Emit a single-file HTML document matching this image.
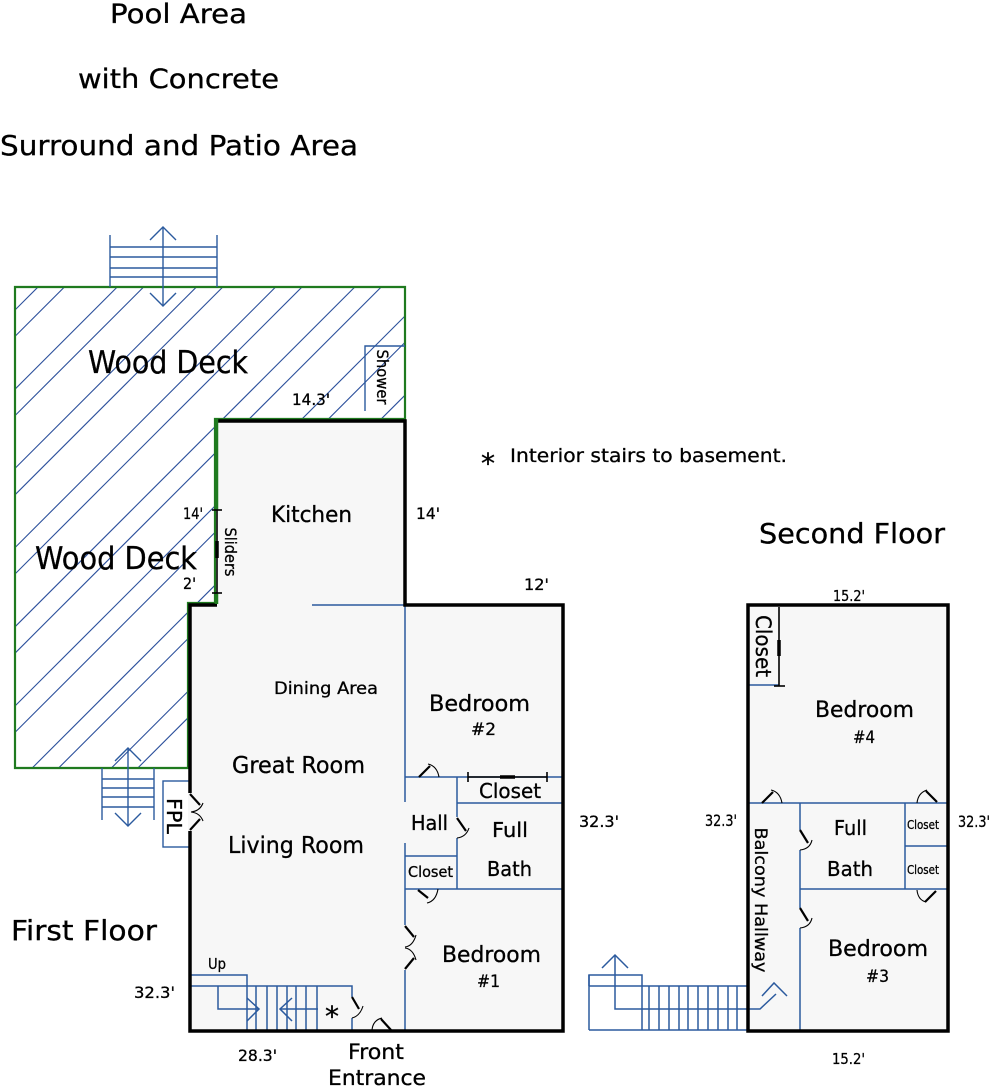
<!DOCTYPE html>
<html>
<head>
<meta charset="utf-8">
<style>
  html,body{margin:0;padding:0;background:#fff;}
  svg{display:block;}
  text{fill:#000;stroke:#000;stroke-width:0.3px;}
</style>
</head>
<body>
<svg width="990" height="1088" viewBox="0 0 990 1088" xmlns="http://www.w3.org/2000/svg" font-family="'DejaVu Sans', Verdana, 'Liberation Sans', sans-serif">
  <defs>
    <clipPath id="deckclip">
      <polygon points="15,287 405,287 405,419 215,419 215,603 188,603 188,768 15,768"/>
    </clipPath>
  </defs>

  <!-- Top titles -->
  <text x="110" y="23" font-size="27" textLength="137" lengthAdjust="spacingAndGlyphs">Pool Area</text>
  <text x="78" y="88" font-size="27" textLength="201" lengthAdjust="spacingAndGlyphs">with Concrete</text>
  <text x="0" y="155" font-size="28" textLength="358" lengthAdjust="spacingAndGlyphs">Surround and Patio Area</text>

  <!-- Deck -->
  <polygon points="15,287 405,287 405,419 215,419 215,603 188,603 188,768 15,768" fill="#fff"/>
  <g clip-path="url(#deckclip)" stroke="#2b4f9b" stroke-width="1.1">
    <line x1="75" y1="250" x2="-525" y2="850"/>
    <line x1="101.4" y1="250" x2="-498.6" y2="850"/>
    <line x1="154.2" y1="250" x2="-445.8" y2="850"/>
    <line x1="180.6" y1="250" x2="-419.4" y2="850"/>
    <line x1="233.4" y1="250" x2="-366.6" y2="850"/>
    <line x1="259.8" y1="250" x2="-340.2" y2="850"/>
    <line x1="312.6" y1="250" x2="-287.4" y2="850"/>
    <line x1="339" y1="250" x2="-261" y2="850"/>
    <line x1="391.8" y1="250" x2="-208.2" y2="850"/>
    <line x1="418.2" y1="250" x2="-181.8" y2="850"/>
    <line x1="471" y1="250" x2="-129" y2="850"/>
    <line x1="497.4" y1="250" x2="-102.6" y2="850"/>
    <line x1="550.2" y1="250" x2="-49.8" y2="850"/>
    <line x1="576.6" y1="250" x2="-23.4" y2="850"/>
    <line x1="629.4" y1="250" x2="29.4" y2="850"/>
    <line x1="655.8" y1="250" x2="55.8" y2="850"/>
  </g>
  <polygon points="15,287 405,287 405,419 215,419 215,603 188,603 188,768 15,768" fill="none" stroke="#1f7a1f" stroke-width="2.2"/>

  <!-- Top deck stairs -->
  <g stroke="#2b5a9e" stroke-width="1.4" fill="none">
    <line x1="110" y1="235" x2="110" y2="287"/>
    <line x1="217" y1="235" x2="217" y2="287"/>
    <line x1="110" y1="247" x2="217" y2="247"/>
    <line x1="110" y1="257" x2="217" y2="257"/>
    <line x1="110" y1="268" x2="217" y2="268"/>
    <line x1="110" y1="277" x2="217" y2="277"/>
    <line x1="163" y1="227" x2="163" y2="306"/>
    <polyline points="150,240 163,227 176,240"/>
    <polyline points="150,293 163,306 176,293"/>
  </g>

  <!-- Shower -->
  <g stroke="#2b5a9e" stroke-width="1.4" fill="none">
    <polyline points="365,411 365,346 405,346"/>
  </g>
  <text transform="translate(377,377) rotate(90)" font-size="16" text-anchor="middle" textLength="55" lengthAdjust="spacingAndGlyphs">Shower</text>

  <text x="88" y="373" font-size="31" textLength="160" lengthAdjust="spacingAndGlyphs">Wood Deck</text>
  <text x="35" y="569" font-size="31" textLength="162" lengthAdjust="spacingAndGlyphs">Wood Deck</text>
  <text x="292" y="405" font-size="16" textLength="38" lengthAdjust="spacingAndGlyphs">14.3'</text>

  <!-- Bottom deck stairs -->
  <g stroke="#2b5a9e" stroke-width="1.4" fill="none">
    <line x1="102" y1="768" x2="102" y2="820"/>
    <line x1="154" y1="768" x2="154" y2="820"/>
    <line x1="102" y1="779" x2="154" y2="779"/>
    <line x1="102" y1="788" x2="154" y2="788"/>
    <line x1="102" y1="797" x2="154" y2="797"/>
    <line x1="102" y1="807" x2="154" y2="807"/>
    <line x1="128" y1="748" x2="128" y2="826"/>
    <polyline points="115,761 128,748 141,761"/>
    <polyline points="115,813 128,826 141,813"/>
  </g>

  <!-- First floor fill -->
  <polygon points="217,421 405,421 405,605 563,605 563,1031 190,1031 190,605 217,605" fill="#f7f7f7"/>

  <!-- FPL -->
  <rect x="163" y="781" width="27" height="66" fill="#fff" stroke="#2b5a9e" stroke-width="1.4"/>
  <text transform="translate(167,816) rotate(90)" font-size="20" text-anchor="middle" textLength="36" lengthAdjust="spacingAndGlyphs">FPL</text>

  <!-- Interior blue walls first floor -->
  <g stroke="#2b5a9e" stroke-width="1.5" fill="none">
    <line x1="312" y1="605" x2="405" y2="605"/>
    <line x1="405" y1="605" x2="405" y2="802"/>
    <line x1="405" y1="843" x2="405" y2="925"/>
    <line x1="405" y1="970" x2="405" y2="1031"/>
    <line x1="405" y1="777" x2="563" y2="777"/>
    <line x1="457" y1="777" x2="457" y2="817"/>
    <line x1="457" y1="838" x2="457" y2="889"/>
    <line x1="457" y1="803" x2="563" y2="803"/>
    <line x1="405" y1="856" x2="457" y2="856"/>
    <line x1="405" y1="889" x2="563" y2="889"/>
    <polyline points="190,975 247,975 247,1031"/>
    <polyline points="190,986 352,986 352,997"/>
    <line x1="256" y1="986" x2="256" y2="1031"/>
    <line x1="267" y1="986" x2="267" y2="1031"/>
    <line x1="277" y1="986" x2="277" y2="1031"/>
    <line x1="287" y1="986" x2="287" y2="1031"/>
    <line x1="296" y1="986" x2="296" y2="1031"/>
    <line x1="306" y1="986" x2="306" y2="1031"/>
    <line x1="317" y1="986" x2="317" y2="1031"/>
    <polyline points="218,986 218,1009 259,1009"/>
    <polyline points="247,998 259,1009 247,1021"/>
    <line x1="280" y1="1009" x2="318" y2="1009"/>
    <polyline points="292,998 280,1009 292,1021"/>
    <line x1="352" y1="1018" x2="352" y2="1031"/>
  </g>

  <!-- First floor outline black -->
  <path d="M217,421 L405,421 L405,605 L563,605 L563,1031 L190,1031 L190,605 L217,605" fill="none" stroke="#000" stroke-width="3.5" stroke-linejoin="miter"/>
  <line x1="216.5" y1="419" x2="216.5" y2="510" stroke="#1f7a1f" stroke-width="3.5"/>
  <line x1="216.5" y1="593" x2="216.5" y2="604" stroke="#1f7a1f" stroke-width="3.5"/>
  <line x1="190" y1="793" x2="190" y2="831" stroke="#f7f7f7" stroke-width="4"/>

  <!-- Sliders -->
  <g stroke="#000" fill="none">
    <line x1="217" y1="510" x2="217" y2="593" stroke-width="1.6"/>
    <line x1="212" y1="510" x2="222" y2="510" stroke-width="1.6"/>
    <line x1="212" y1="593" x2="222" y2="593" stroke-width="1.6"/>
    <line x1="217" y1="541" x2="217" y2="558" stroke-width="3.5"/>
  </g>
  <text transform="translate(225,552) rotate(90)" font-size="16" text-anchor="middle" textLength="49" lengthAdjust="spacingAndGlyphs">Sliders</text>

  <!-- Closet bracket (bath closet) -->
  <g stroke="#000" fill="none">
    <line x1="468" y1="777" x2="547" y2="777" stroke-width="1.6"/>
    <line x1="468" y1="772" x2="468" y2="782" stroke-width="1.6"/>
    <line x1="547" y1="772" x2="547" y2="782" stroke-width="1.6"/>
    <line x1="500" y1="777" x2="515" y2="777" stroke-width="3.5"/>
  </g>

  <!-- Doors first floor -->
  <g stroke="#000" fill="none" stroke-linecap="butt">
    <line x1="190" y1="794" x2="200" y2="805" stroke-width="2.2"/>
    <path d="M203,803 Q200,811 191,812" stroke-width="1.1"/>
    <line x1="190" y1="830" x2="200" y2="819" stroke-width="2.2"/>
    <path d="M203,821 Q200,813 191,812" stroke-width="1.1"/>
    <line x1="419" y1="777" x2="430" y2="766" stroke-width="2.2"/>
    <path d="M428,764 Q437,766 439,777" stroke-width="1.1"/>
    <line x1="457" y1="818" x2="466" y2="831" stroke-width="2.2"/>
    <path d="M469,828 Q466,837 457,838" stroke-width="1.1"/>
    <line x1="418" y1="890" x2="428" y2="898" stroke-width="2.2"/>
    <path d="M427,903 Q436,901 438,889" stroke-width="1.1"/>
    <line x1="405" y1="926" x2="414" y2="937" stroke-width="2.2"/>
    <path d="M416,935 Q413,946 405,947" stroke-width="1.1"/>
    <line x1="405" y1="969" x2="414" y2="958" stroke-width="2.2"/>
    <path d="M416,960 Q413,949 405,948" stroke-width="1.1"/>
    <line x1="352" y1="997" x2="359" y2="1009" stroke-width="2.2"/>
    <path d="M363,1006 Q360,1016 352,1018" stroke-width="1.1"/>
    <line x1="381" y1="1019" x2="391" y2="1030" stroke-width="2.2"/>
    <path d="M372,1030 Q373,1020 382,1018" stroke-width="1.1"/>
  </g>

  <!-- First floor labels -->
  <text x="271" y="522" font-size="22" textLength="81" lengthAdjust="spacingAndGlyphs">Kitchen</text>
  <text x="183" y="519" font-size="16" textLength="20" lengthAdjust="spacingAndGlyphs">14'</text>
  <text x="183" y="589" font-size="16" textLength="13" lengthAdjust="spacingAndGlyphs">2'</text>
  <text x="416" y="519" font-size="16" textLength="24" lengthAdjust="spacingAndGlyphs">14'</text>
  <text x="524" y="590" font-size="16" textLength="25" lengthAdjust="spacingAndGlyphs">12'</text>
  <text x="274" y="694" font-size="17" textLength="104" lengthAdjust="spacingAndGlyphs">Dining Area</text>
  <text x="232" y="773" font-size="23" textLength="133" lengthAdjust="spacingAndGlyphs">Great Room</text>
  <text x="228" y="853" font-size="23" textLength="136" lengthAdjust="spacingAndGlyphs">Living Room</text>
  <text x="429" y="711" font-size="22" textLength="101" lengthAdjust="spacingAndGlyphs">Bedroom</text>
  <text x="471" y="735" font-size="17" textLength="25" lengthAdjust="spacingAndGlyphs">#2</text>
  <text x="479" y="798" font-size="20" textLength="62" lengthAdjust="spacingAndGlyphs">Closet</text>
  <text x="411" y="830" font-size="20" textLength="37" lengthAdjust="spacingAndGlyphs">Hall</text>
  <text x="492" y="837" font-size="20" textLength="36" lengthAdjust="spacingAndGlyphs">Full</text>
  <text x="487" y="876" font-size="20" textLength="45" lengthAdjust="spacingAndGlyphs">Bath</text>
  <text x="408" y="877" font-size="15" textLength="45" lengthAdjust="spacingAndGlyphs">Closet</text>
  <text x="442" y="962" font-size="22" textLength="99" lengthAdjust="spacingAndGlyphs">Bedroom</text>
  <text x="477" y="987" font-size="17" textLength="23" lengthAdjust="spacingAndGlyphs">#1</text>
  <text x="579" y="827" font-size="16" textLength="40" lengthAdjust="spacingAndGlyphs">32.3'</text>
  <text x="134" y="998" font-size="16" textLength="41" lengthAdjust="spacingAndGlyphs">32.3'</text>
  <text x="208" y="969" font-size="15" textLength="18" lengthAdjust="spacingAndGlyphs">Up</text>
  <text x="325" y="1026" font-size="28">*</text>
  <text x="238" y="1061" font-size="16" textLength="39" lengthAdjust="spacingAndGlyphs">28.3'</text>
  <text x="348" y="1059" font-size="21" textLength="56" lengthAdjust="spacingAndGlyphs">Front</text>
  <text x="328" y="1085" font-size="21" textLength="98" lengthAdjust="spacingAndGlyphs">Entrance</text>
  <text x="11" y="940" font-size="28" textLength="146" lengthAdjust="spacingAndGlyphs">First Floor</text>

  <!-- Note -->
  <text x="481" y="473" font-size="28">*</text>
  <text x="510" y="462" font-size="19" textLength="277" lengthAdjust="spacingAndGlyphs">Interior stairs to basement.</text>

  <!-- Second floor -->
  <text x="759" y="543" font-size="28" textLength="186" lengthAdjust="spacingAndGlyphs">Second Floor</text>
  <text x="833" y="601" font-size="15" textLength="32" lengthAdjust="spacingAndGlyphs">15.2'</text>
  <rect x="748" y="605" width="200" height="426" fill="#f7f7f7"/>

  <g stroke="#2b5a9e" stroke-width="1.5" fill="none">
    <line x1="748" y1="685" x2="779" y2="685"/>
    <line x1="748" y1="803" x2="948" y2="803"/>
    <line x1="800" y1="803" x2="800" y2="830"/>
    <line x1="800" y1="850" x2="800" y2="908"/>
    <line x1="800" y1="928" x2="800" y2="1031"/>
    <line x1="800" y1="889" x2="948" y2="889"/>
    <line x1="905" y1="803" x2="905" y2="889"/>
    <line x1="905" y1="846" x2="948" y2="846"/>
    <polyline points="589,986 589,975 642,975 642,1030"/>
    <line x1="589" y1="986" x2="748" y2="986"/>
    <line x1="589" y1="1030" x2="748" y2="1030"/>
    <line x1="589" y1="975" x2="589" y2="1030"/>
    <line x1="649" y1="986" x2="649" y2="1030"/>
    <line x1="659" y1="986" x2="659" y2="1030"/>
    <line x1="669" y1="986" x2="669" y2="1030"/>
    <line x1="679" y1="986" x2="679" y2="1030"/>
    <line x1="688" y1="986" x2="688" y2="1030"/>
    <line x1="698" y1="986" x2="698" y2="1030"/>
    <line x1="708" y1="986" x2="708" y2="1030"/>
    <line x1="718" y1="986" x2="718" y2="1030"/>
    <line x1="728" y1="986" x2="728" y2="1030"/>
    <line x1="737" y1="986" x2="737" y2="1030"/>
    <polyline points="615,955 615,1009 760,1009 776,994"/>
    <polyline points="602,968 615,955 628,968"/>
    <polyline points="762,996 774,983 787,996"/>
  </g>

  <rect x="748" y="605" width="200" height="426" fill="none" stroke="#000" stroke-width="3.5"/>

  <g stroke="#000" fill="none">
    <line x1="779" y1="607" x2="779" y2="686" stroke-width="1.6"/>
    <line x1="774" y1="686" x2="785" y2="686" stroke-width="1.6"/>
    <line x1="779" y1="640" x2="779" y2="656" stroke-width="3.5"/>
  </g>

  <g stroke="#000" fill="none">
    <line x1="762" y1="803" x2="773" y2="792" stroke-width="2.2"/>
    <path d="M771,790 Q780,792 782,803" stroke-width="1.1"/>
    <path d="M917,803 Q918,793 927,790" stroke-width="1.1"/>
    <line x1="926" y1="791" x2="937" y2="802" stroke-width="2.2"/>
    <line x1="800" y1="830" x2="808" y2="843" stroke-width="2.2"/>
    <path d="M812,840 Q810,849 800,850" stroke-width="1.1"/>
    <line x1="800" y1="908" x2="808" y2="921" stroke-width="2.2"/>
    <path d="M812,918 Q810,927 800,928" stroke-width="1.1"/>
    <path d="M917,890 Q918,900 926,902" stroke-width="1.1"/>
    <line x1="925" y1="902" x2="936" y2="891" stroke-width="2.2"/>
  </g>

  <text transform="translate(756,646) rotate(90)" font-size="21" text-anchor="middle" textLength="62" lengthAdjust="spacingAndGlyphs">Closet</text>
  <text x="815" y="717" font-size="22" textLength="99" lengthAdjust="spacingAndGlyphs">Bedroom</text>
  <text x="853" y="743" font-size="17" textLength="22" lengthAdjust="spacingAndGlyphs">#4</text>
  <text x="834" y="835" font-size="20" textLength="33" lengthAdjust="spacingAndGlyphs">Full</text>
  <text x="827" y="876" font-size="20" textLength="46" lengthAdjust="spacingAndGlyphs">Bath</text>
  <text x="907" y="829" font-size="12" textLength="32" lengthAdjust="spacingAndGlyphs">Closet</text>
  <text x="907" y="874" font-size="12" textLength="32" lengthAdjust="spacingAndGlyphs">Closet</text>
  <text x="958" y="827" font-size="16" textLength="32" lengthAdjust="spacingAndGlyphs">32.3'</text>
  <text x="705" y="826" font-size="16" textLength="32" lengthAdjust="spacingAndGlyphs">32.3'</text>
  <text transform="translate(755,900) rotate(90)" font-size="17" text-anchor="middle" textLength="145" lengthAdjust="spacingAndGlyphs">Balcony Hallway</text>
  <text x="828" y="956" font-size="22" textLength="100" lengthAdjust="spacingAndGlyphs">Bedroom</text>
  <text x="866" y="982" font-size="17" textLength="23" lengthAdjust="spacingAndGlyphs">#3</text>
  <text x="832" y="1064" font-size="15" textLength="33" lengthAdjust="spacingAndGlyphs">15.2'</text>
</svg>
</body>
</html>
